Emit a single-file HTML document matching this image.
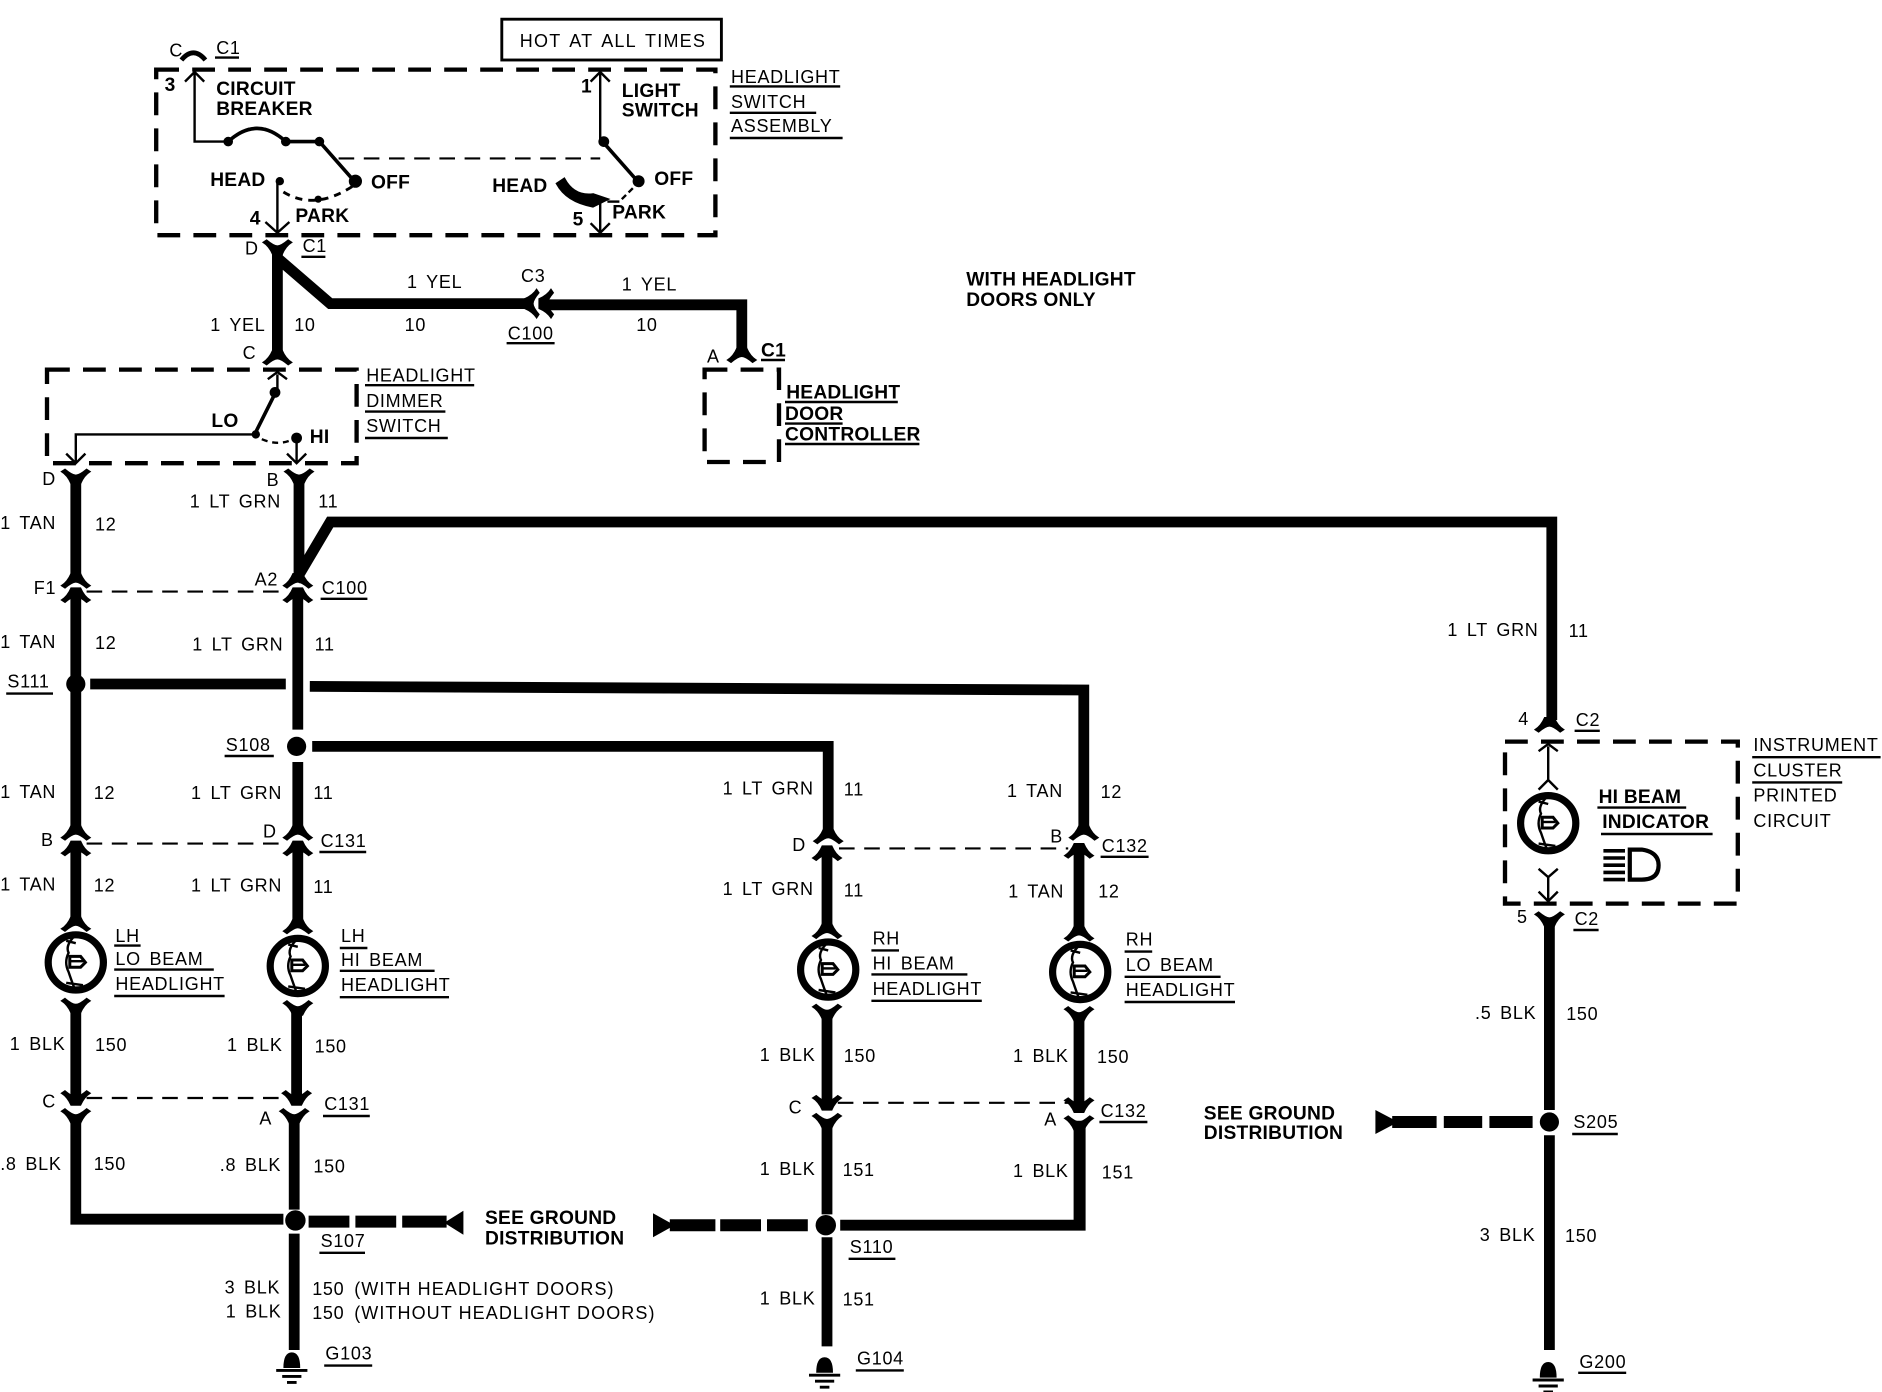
<!DOCTYPE html>
<html><head><meta charset="utf-8"><style>
html,body{margin:0;padding:0;background:#fff}
svg{display:block}
text{font-family:"Liberation Sans",sans-serif;font-size:15px;letter-spacing:.6px;word-spacing:2.5px;fill:#000}
.b{font-weight:bold;font-size:16px;letter-spacing:.2px;word-spacing:0}
.w{fill:none;stroke:#000;stroke-width:9;stroke-linejoin:miter}
.box{fill:none;stroke:#000;stroke-width:3.6;stroke-dasharray:19 11}
.t{fill:none;stroke:#000;stroke-width:2}
.m{fill:none;stroke:#000;stroke-width:3}
.u{stroke:#000;stroke-width:2}
.d{fill:none;stroke:#000;stroke-width:1.8;stroke-dasharray:13 8}
.g{fill:none;stroke:#000;stroke-width:10}
</style></head><body>
<svg width="1882" height="1392" viewBox="0 0 1568 1160" xmlns="http://www.w3.org/2000/svg">
<defs>
<path id="dn" d="M-12 6Q-7 3-4-4L4-4Q7 3 12 6L9 8Q3 3 0 3Q-3 3-9 8Z" stroke="#000" stroke-width="1"/>
<path id="up" d="M-12-6Q-7-3-4 4L4 4Q7-3 12-6L9-8Q3-3 0-3Q-3-3-9-8Z" stroke="#000" stroke-width="1"/>
<g id="bulb">
<circle r="23" fill="#fff" stroke="#000" stroke-width="6"/>
<path class="t" stroke-width="2.4" d="M-1-22Q-9-14-6-8Q-10 0-6 8Q-4 14-1 22M-8-18L0-16M-8 17L6 19"/>
<path d="M-5-5L4-5L8 0L4 4L-5 4Z" fill="#fff" stroke="#000" stroke-width="2.5"/>
<path d="M-5-1L6-1" class="t"/>
</g>
<g id="gnd">
<path d="M-7 6Q-7-7 0-7Q7-7 7 6Z"/>
<path d="M-13 8H13M-8 13H8M-4 18H4" stroke="#000" stroke-width="2.4"/>
</g>
</defs>

<!-- HOT box -->
<rect x="418" y="16" width="183" height="34" fill="none" stroke="#000" stroke-width="2.4"/>
<text x="433" y="39" style="letter-spacing:1px;word-spacing:2.5px">HOT AT ALL TIMES</text>

<!-- Headlight switch box -->
<rect x="130" y="58" width="466" height="138" class="box"/>
<path d="M151 50Q161 38 171 50" fill="none" stroke="#000" stroke-width="4"/>
<text x="141" y="47">C</text><text x="180" y="45">C1</text><line class="u" x1="179" y1="48" x2="199" y2="48"/>
<text class="b" x="137" y="76">3</text>
<text class="b" x="180" y="79">CIRCUIT</text><text class="b" x="180" y="96">BREAKER</text>
<text class="b" x="484" y="77">1</text>
<text class="b" x="518" y="81">LIGHT</text><text class="b" x="518" y="97">SWITCH</text>
<text x="609" y="69">HEADLIGHT</text><line class="u" x1="608" y1="72" x2="700" y2="72"/>
<text x="609" y="90">SWITCH</text><line class="u" x1="608" y1="94" x2="680" y2="94"/>
<text x="609" y="110">ASSEMBLY</text><line class="u" x1="608" y1="115" x2="702" y2="115"/>
<path class="t" d="M162 60V118H190M154 68L162 60L170 68"/>
<circle cx="190" cy="118" r="4"/><circle cx="238" cy="118" r="4"/><circle cx="266" cy="118" r="4"/>
<path class="m" d="M190 118Q214 96 238 118H266L296 152"/>
<circle cx="296" cy="151" r="5.5"/>
<path class="d" d="M282 132H500"/>
<path class="m" d="M502 118L532 152"/><circle cx="503" cy="118" r="4.5"/><circle cx="532" cy="151" r="5"/>
<path class="t" d="M500 60V118M492 68L500 60L508 68"/>
<text class="b" x="175" y="155">HEAD</text><text class="b" x="309" y="157">OFF</text>
<text class="b" x="246" y="185">PARK</text>
<text class="b" x="208" y="187">4</text>
<circle cx="233" cy="151" r="3.5"/>
<path class="t" d="M231 151V194M221 185L231 194L241 185"/>
<path d="M236 160Q262 176 294 155" fill="none" stroke="#000" stroke-dasharray="6 5" stroke-width="2.4"/>
<circle cx="265" cy="166" r="3"/>
<text class="b" x="410" y="160">HEAD</text><text class="b" x="545" y="154">OFF</text>
<text class="b" x="510" y="182">PARK</text><text class="b" x="477" y="188">5</text>
<path d="M470 149Q478 164 494 162L506 166L494 172Q472 168 464 153Z" stroke="#000" stroke-width="2"/>
<path class="t" d="M506 168H516" /><path class="t" d="M518 166L528 156" stroke-dasharray="5 3"/>
<path class="t" d="M500 168V194M492 186L500 194L508 186"/>

<!-- Top wires -->
<use href="#up" x="231" y="208"/>
<path class="w" d="M231 208V296M231 215L275 253H440"/>
<text x="204" y="212">D</text><text x="252" y="210">C1</text><line class="u" x1="251" y1="214" x2="271" y2="214"/>
<text x="339" y="240">1 YEL</text><text x="337" y="276">10</text>
<text x="175" y="276">1 YEL</text><text x="245" y="276">10</text>
<text x="434" y="235">C3</text>
<use href="#dn" transform="translate(441 253) rotate(-90)"/>
<use href="#dn" transform="translate(453 253) rotate(-90)"/>
<path class="w" d="M452 254H618V294"/>
<text x="423" y="283">C100</text><line class="u" x1="422" y1="286" x2="462" y2="286"/>
<text x="518" y="242">1 YEL</text><text x="530" y="276">10</text>
<use href="#dn" x="618" y="294"/>
<text x="589" y="302">A</text><text class="b" x="634" y="297">C1</text><line class="u" x1="634" y1="300" x2="654" y2="300"/>
<text class="b" x="805" y="238">WITH HEADLIGHT</text><text class="b" x="805" y="255">DOORS ONLY</text>
<rect x="587" y="308" width="62" height="77" class="box"/>
<text class="b" x="655" y="332">HEADLIGHT</text><line class="u" x1="654" y1="335" x2="748" y2="335"/>
<text class="b" x="654" y="350">DOOR</text><line class="u" x1="654" y1="353" x2="702" y2="353"/>
<text class="b" x="654" y="367">CONTROLLER</text><line class="u" x1="654" y1="370" x2="766" y2="370"/>

<!-- Dimmer -->
<use href="#dn" x="231" y="296"/>
<text x="202" y="299">C</text>
<rect x="39" y="308" width="258" height="78" class="box"/>
<text x="305" y="318">HEADLIGHT</text><line class="u" x1="304" y1="321" x2="395" y2="321"/>
<text x="305" y="339">DIMMER</text><line class="u" x1="304" y1="343" x2="371" y2="343"/>
<text x="305" y="360">SWITCH</text><line class="u" x1="304" y1="365" x2="373" y2="365"/>
<path class="t" d="M223 316L231 310L239 316M231 312V330"/>
<circle cx="229" cy="327" r="4.5"/>
<path class="m" d="M229 328L212 362"/>
<path class="t" d="M212 362H63V385M55 378L63 386L71 378"/>
<circle cx="213" cy="362" r="3.5"/>
<text class="b" x="176" y="356">LO</text><text class="b" x="258" y="369">HI</text>
<circle cx="247" cy="365" r="4.5"/>
<path class="t" d="M218 366Q232 372 244 366" stroke-dasharray="5 4"/>
<path class="t" d="M247 366V386M239 378L247 386L255 378"/>
<text x="35" y="404">D</text><text x="222" y="405">B</text>

<!-- Left wires -->
<use href="#up" x="63" y="399"/><use href="#up" x="249" y="399"/>
<path class="w" d="M63 399V482M249 399V482M246 484L275 435H1293V600"/>
<use href="#dn" x="63" y="482"/><use href="#dn" x="248" y="482"/>
<use href="#dn" x="63" y="494"/><use href="#dn" x="248" y="494"/>
<path class="d" d="M72 493H238"/>
<text x="0" y="441">1 TAN</text><text x="79" y="442">12</text>
<text x="158" y="423">1 LT GRN</text><text x="265" y="423">11</text>
<text x="28" y="495">F1</text><text x="212" y="488">A2</text>
<text x="268" y="495">C100</text><line class="u" x1="267" y1="499" x2="306" y2="499"/>
<text x="0" y="540">1 TAN</text><text x="79" y="541">12</text>
<text x="160" y="542">1 LT GRN</text><text x="262" y="542">11</text>
<path class="w" d="M63 494V692M248 494V608M248 635V692"/>
<text x="6" y="573">S111</text><line class="u" x1="5" y1="578" x2="44" y2="578"/>
<circle cx="63" cy="570" r="8"/>
<path class="w" d="M75 570H238"/>
<path class="w" d="M258 572L903 575V692"/>
<circle cx="247" cy="622" r="8"/>
<text x="188" y="626">S108</text><line class="u" x1="187" y1="630" x2="228" y2="630"/>
<path class="w" d="M260 622H690V695"/>
<text x="0" y="665">1 TAN</text><text x="78" y="666">12</text>
<text x="159" y="666">1 LT GRN</text><text x="261" y="666">11</text>
<text x="34" y="705">B</text><text x="219" y="698">D</text>
<text x="267" y="706">C131</text><line class="u" x1="266" y1="710" x2="305" y2="710"/>
<use href="#dn" x="63" y="692"/><use href="#dn" x="248" y="692"/>
<use href="#dn" x="63" y="705"/><use href="#dn" x="248" y="705"/>
<path class="d" d="M72 703H238"/>
<path class="w" d="M63 705V768M248 705V770"/>
<text x="0" y="742">1 TAN</text><text x="78" y="743">12</text>
<text x="159" y="743">1 LT GRN</text><text x="261" y="744">11</text>
<use href="#dn" x="63" y="768"/><use href="#dn" x="248" y="770"/>
<use href="#bulb" x="63" y="802"/><use href="#bulb" x="248" y="805"/>
<text x="96" y="785">LH</text><line class="u" x1="95" y1="788" x2="117" y2="788"/>
<text x="96" y="804">LO BEAM</text><line class="u" x1="95" y1="808" x2="178" y2="808"/>
<text x="96" y="825">HEADLIGHT</text><line class="u" x1="95" y1="830" x2="187" y2="830"/>
<text x="284" y="785">LH</text><line class="u" x1="283" y1="790" x2="306" y2="790"/>
<text x="284" y="805">HI BEAM</text><line class="u" x1="283" y1="809" x2="362" y2="809"/>
<text x="284" y="826">HEADLIGHT</text><line class="u" x1="283" y1="831" x2="374" y2="831"/>
<use href="#up" x="63" y="840"/><use href="#up" x="248" y="842"/>
<path class="w" d="M63 840V917M247 842V917"/>
<text x="8" y="875">1 BLK</text><text x="79" y="876">150</text>
<text x="189" y="876">1 BLK</text><text x="262" y="877">150</text>
<text x="35" y="923">C</text><text x="216" y="937">A</text>
<text x="270" y="925">C131</text><line class="u" x1="269" y1="930" x2="308" y2="930"/>
<use href="#up" x="63" y="917"/><use href="#up" x="247" y="917"/>
<use href="#up" x="63" y="932"/><use href="#up" x="245" y="932"/>
<path class="d" d="M72 915H236"/>
<path class="w" d="M63 932V1016H236M245 932V1008M245 1028V1125"/>
<text x="0" y="975">.8 BLK</text><text x="78" y="975">150</text>
<text x="183" y="976">.8 BLK</text><text x="261" y="977">150</text>
<circle cx="246" cy="1017" r="8.5"/>
<path class="g" d="M257 1018H291M296 1018H330M335 1018H372"/>
<path d="M386 1009V1029L370 1019Z"/>
<text x="267" y="1039">S107</text><line class="u" x1="266" y1="1044" x2="304" y2="1044"/>
<text class="b" x="404" y="1020">SEE GROUND</text><text class="b" x="404" y="1037">DISTRIBUTION</text>
<text x="187" y="1078">3 BLK</text><text x="260" y="1079">150</text><text x="295" y="1079" style="letter-spacing:.9px;word-spacing:0">(WITH HEADLIGHT DOORS)</text>
<text x="188" y="1098">1 BLK</text><text x="260" y="1099">150</text><text x="295" y="1099" style="letter-spacing:.9px;word-spacing:0">(WITHOUT HEADLIGHT DOORS)</text>
<use href="#gnd" x="243" y="1134"/>
<text x="271" y="1133">G103</text><line class="u" x1="270" y1="1138" x2="310" y2="1138"/>

<!-- Middle -->
<path d="M544 1011V1031L562 1021Z"/>
<path class="g" d="M558 1021H596M600 1021H634M639 1021H673"/>
<circle cx="688" cy="1021" r="8.5"/>
<path class="w" d="M700 1021H900V934"/>
<text x="708" y="1044">S110</text><line class="u" x1="707" y1="1049" x2="746" y2="1049"/>
<text x="602" y="662">1 LT GRN</text><text x="703" y="663">11</text>
<text x="839" y="664">1 TAN</text><text x="917" y="665">12</text>
<text x="660" y="709">D</text><text x="875" y="702">B</text>
<text x="918" y="710">C132</text><line class="u" x1="917" y1="714" x2="957" y2="714"/>
<use href="#dn" x="690" y="695"/><use href="#dn" x="903" y="692"/>
<use href="#dn" x="689" y="709"/><use href="#dn" x="899" y="707"/>
<path class="d" d="M699 707H890"/>
<path class="w" d="M689 709V774M899 707V776"/>
<text x="602" y="746">1 LT GRN</text><text x="703" y="747">11</text>
<text x="840" y="748">1 TAN</text><text x="915" y="748">12</text>
<use href="#dn" x="689" y="774"/><use href="#dn" x="899" y="776"/>
<use href="#bulb" x="690" y="808"/><use href="#bulb" x="900" y="810"/>
<text x="727" y="787">RH</text><line class="u" x1="726" y1="792" x2="749" y2="792"/>
<text x="727" y="808">HI BEAM</text><line class="u" x1="726" y1="812" x2="806" y2="812"/>
<text x="727" y="829">HEADLIGHT</text><line class="u" x1="726" y1="834" x2="818" y2="834"/>
<text x="938" y="788">RH</text><line class="u" x1="937" y1="793" x2="960" y2="793"/>
<text x="938" y="809">LO BEAM</text><line class="u" x1="937" y1="814" x2="1017" y2="814"/>
<text x="938" y="830">HEADLIGHT</text><line class="u" x1="937" y1="835" x2="1029" y2="835"/>
<use href="#up" x="689" y="845"/><use href="#up" x="899" y="847"/>
<path class="w" d="M689 845V921M899 847V923"/>
<text x="633" y="884">1 BLK</text><text x="703" y="885">150</text>
<text x="844" y="885">1 BLK</text><text x="914" y="886">150</text>
<text x="657" y="928">C</text><text x="870" y="938">A</text>
<text x="917" y="931">C132</text><line class="u" x1="916" y1="935" x2="956" y2="935"/>
<use href="#up" x="689" y="921"/><use href="#up" x="899" y="923"/>
<use href="#up" x="689" y="936"/><use href="#up" x="899" y="938"/>
<path class="d" d="M698 919H890"/>
<path class="w" d="M689 936V1012M689 1031V1122M899 938V1021"/>
<text x="633" y="979">1 BLK</text><text x="702" y="980">151</text>
<text x="844" y="981">1 BLK</text><text x="918" y="982">151</text>
<text x="633" y="1087">1 BLK</text><text x="702" y="1088">151</text>
<use href="#gnd" x="687" y="1138"/>
<text x="714" y="1137">G104</text><line class="u" x1="713" y1="1142" x2="753" y2="1142"/>

<!-- Right -->
<text x="1206" y="530">1 LT GRN</text><text x="1307" y="531">11</text>
<text x="1265" y="604">4</text>
<text x="1313" y="605">C2</text><line class="u" x1="1312" y1="609" x2="1333" y2="609"/>
<use href="#dn" x="1291" y="602"/>
<rect x="1254" y="618" width="194" height="135" class="box"/>
<text x="1461" y="626">INSTRUMENT</text><line class="u" x1="1460" y1="631" x2="1567" y2="631"/>
<text x="1461" y="647">CLUSTER</text><line class="u" x1="1460" y1="652" x2="1535" y2="652"/>
<text x="1461" y="668">PRINTED</text><text x="1461" y="689">CIRCUIT</text>
<path class="t" d="M1282 626L1290 620L1298 626M1290 622V650M1282 658L1290 650L1298 658"/>
<path class="t" d="M1282 724L1290 731L1298 724M1290 731V751M1282 743L1290 751L1298 743"/>
<use href="#bulb" x="1290" y="686"/>
<text class="b" x="1332" y="669">HI BEAM</text><line class="u" x1="1331" y1="673" x2="1405" y2="673"/>
<text class="b" x="1335" y="690">INDICATOR</text><line class="u" x1="1334" y1="695" x2="1427" y2="695"/>
<path d="M1358 708H1368Q1382 710 1382 721Q1382 733 1368 733H1358Z" fill="#fff" stroke="#000" stroke-width="3.5"/>
<path d="M1336 709H1354M1336 715H1354M1336 721H1354M1336 727H1354M1336 733H1354" stroke="#000" stroke-width="3"/>
<use href="#up" x="1291" y="768"/>
<text x="1264" y="769">5</text>
<text x="1312" y="771">C2</text><line class="u" x1="1311" y1="775" x2="1332" y2="775"/>
<path class="w" d="M1291 768V925M1291 946V1125"/>
<text x="1229" y="849">.5 BLK</text><text x="1305" y="850">150</text>
<circle cx="1291" cy="935" r="8"/>
<text x="1311" y="940">S205</text><line class="u" x1="1310" y1="945" x2="1348" y2="945"/>
<path d="M1146 925V945L1165 935Z"/>
<path class="g" d="M1160 935H1197M1203 935H1235M1241 935H1277"/>
<text class="b" x="1003" y="933">SEE GROUND</text><text class="b" x="1003" y="949">DISTRIBUTION</text>
<text x="1233" y="1034">3 BLK</text><text x="1304" y="1035">150</text>
<use href="#gnd" x="1290" y="1142"/>
<text x="1316" y="1140">G200</text><line class="u" x1="1315" y1="1144" x2="1355" y2="1144"/>
</svg>
</body></html>
